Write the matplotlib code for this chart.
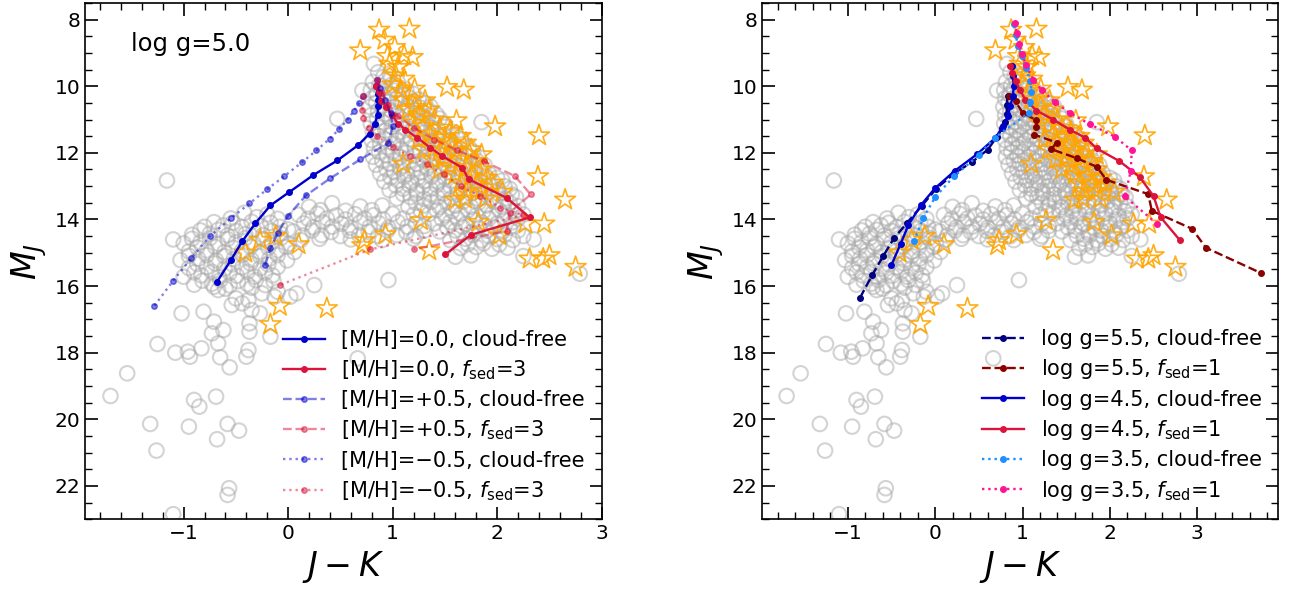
import numpy as np
import matplotlib.pyplot as plt
from matplotlib.ticker import MultipleLocator

# ---- field brown dwarfs (J-K, M_J), grouped by region of the CMD ----
field_early_L = [
    (0.86, 9.58), (0.97, 9.63), (0.82, 9.33), (0.81, 9.87), (0.93, 9.83), (1.05, 9.88),
    (0.79, 10.12), (0.9, 10.08), (1.02, 10.13), (1.13, 10.1), (0.71, 10.13),
    (0.8, 10.37), (0.92, 10.33), (1.04, 10.38), (1.16, 10.34), (1.25, 10.4),
    (0.78, 10.62), (0.9, 10.58), (1.02, 10.63), (1.14, 10.59), (1.26, 10.64), (1.36, 10.6),
    (0.8, 10.86), (0.93, 10.83), (1.05, 10.88), (1.17, 10.84), (1.29, 10.88), (1.42, 10.85),
    (0.79, 11.12), (0.91, 11.08), (1.03, 11.13), (1.15, 11.09), (1.27, 11.12), (1.39, 11.08),
    (1.5, 11.13), (0.47, 10.98), (1.85, 11.08),
    (0.81, 11.36), (0.93, 11.33), (1.06, 11.38), (1.19, 11.34), (1.31, 11.37), (1.44, 11.33),
    (1.57, 11.37),
]
field_late_L = [
    (0.8, 11.62), (0.92, 11.58), (1.04, 11.63), (1.17, 11.59), (1.3, 11.62), (1.42, 11.58),
    (1.55, 11.63), (1.66, 11.6),
    (0.82, 11.86), (0.95, 11.83), (1.08, 11.88), (1.21, 11.84), (1.34, 11.87), (1.47, 11.83),
    (1.6, 11.87), (1.73, 11.84),
    (0.81, 12.12), (0.94, 12.08), (1.07, 12.13), (1.2, 12.09), (1.33, 12.12), (1.46, 12.08),
    (1.59, 12.13), (1.72, 12.09), (1.82, 12.12),
    (0.84, 12.36), (0.97, 12.33), (1.1, 12.38), (1.23, 12.34), (1.36, 12.37), (1.49, 12.33),
    (1.62, 12.38), (1.75, 12.34), (1.88, 12.37),
    (0.88, 12.62), (1.01, 12.58), (1.14, 12.63), (1.27, 12.59), (1.4, 12.62), (1.53, 12.58),
    (1.66, 12.63), (1.79, 12.59), (1.92, 12.62),
    (0.92, 12.86), (1.05, 12.83), (1.18, 12.88), (1.31, 12.84), (1.44, 12.87), (1.57, 12.83),
    (1.7, 12.88), (1.83, 12.84), (1.96, 12.87), (2.05, 12.83),
    (0.97, 13.12), (1.1, 13.08), (1.23, 13.13), (1.36, 13.09), (1.49, 13.12), (1.62, 13.08),
    (1.75, 13.13), (1.88, 13.09), (2.01, 13.12), (2.12, 13.08),
    (1.04, 13.37), (1.17, 13.33), (1.3, 13.38), (1.43, 13.34), (1.56, 13.37), (1.69, 13.33),
    (1.82, 13.38), (1.95, 13.34), (2.08, 13.37), (2.18, 13.33),
]
field_L_fill = [
    (0.91, 9.72), (0.87, 9.98), (0.99, 9.96),
    (0.85, 10.24), (0.97, 10.22), (1.09, 10.26), (1.2, 10.23),
    (0.84, 10.49), (0.96, 10.47), (1.08, 10.5), (1.2, 10.47), (1.31, 10.5),
    (0.86, 10.74), (0.98, 10.72), (1.1, 10.75), (1.22, 10.72), (1.35, 10.74),
    (0.85, 10.98), (0.97, 10.97), (1.09, 11.0), (1.21, 10.97), (1.33, 11.0), (1.45, 10.97),
    (0.87, 11.24), (0.99, 11.22), (1.12, 11.25), (1.25, 11.22), (1.37, 11.25), (1.5, 11.22),
    (0.86, 11.49), (0.98, 11.47), (1.1, 11.5), (1.23, 11.47), (1.36, 11.5), (1.49, 11.47),
    (1.61, 11.5),
    (0.88, 11.74), (1.01, 11.72), (1.14, 11.75), (1.27, 11.72), (1.4, 11.75), (1.53, 11.72),
    (1.66, 11.75),
    (0.87, 11.98), (1.0, 11.97), (1.13, 12.0), (1.26, 11.97), (1.39, 12.0), (1.52, 11.97),
    (1.65, 12.0), (1.77, 11.97),
    (0.9, 12.24), (1.03, 12.22), (1.16, 12.25), (1.29, 12.22), (1.42, 12.25), (1.55, 12.22),
    (1.68, 12.25), (1.8, 12.22),
    (0.94, 12.49), (1.07, 12.47), (1.2, 12.5), (1.33, 12.47), (1.46, 12.5), (1.59, 12.47),
    (1.72, 12.5), (1.85, 12.47),
    (0.98, 12.74), (1.11, 12.72), (1.24, 12.75), (1.37, 12.72), (1.5, 12.75), (1.63, 12.72),
    (1.76, 12.75), (1.89, 12.72), (2.0, 12.75),
    (1.03, 12.98), (1.16, 12.97), (1.29, 13.0), (1.42, 12.97), (1.55, 13.0), (1.68, 12.97),
    (1.81, 13.0), (1.94, 12.97), (2.07, 13.0),
    (1.1, 13.24), (1.23, 13.22), (1.36, 13.25), (1.49, 13.22), (1.62, 13.25), (1.75, 13.22),
    (1.88, 13.25), (2.01, 13.22), (2.14, 13.25),
]
field_LT = [
    (1.15, 13.62), (1.3, 13.58), (1.45, 13.63), (1.6, 13.59), (1.75, 13.62), (1.9, 13.58),
    (2.05, 13.63), (2.2, 13.6),
    (1.2, 13.86), (1.35, 13.83), (1.5, 13.88), (1.65, 13.84), (1.8, 13.87), (1.95, 13.83),
    (2.1, 13.88), (2.25, 13.85),
    (1.4, 14.12), (1.55, 14.08), (1.7, 14.13), (1.85, 14.09), (2.0, 14.12), (2.15, 14.08),
    (1.45, 14.36), (1.6, 14.33), (1.75, 14.38), (1.9, 14.34), (2.05, 14.37), (2.2, 14.33),
    (1.55, 14.62), (1.7, 14.58), (1.85, 14.63), (2.0, 14.59), (2.15, 14.62), (2.35, 14.6),
    (1.65, 14.86), (1.8, 14.83), (1.95, 14.88), (2.1, 14.85),
    (1.6, 15.12), (1.75, 15.08), (2.25, 15.1), (2.79, 15.63),
    (1.22, 13.5), (1.37, 13.47), (1.52, 13.5), (1.67, 13.47), (1.82, 13.5), (1.97, 13.47),
    (2.12, 13.5),
    (1.27, 13.74), (1.42, 13.72), (1.57, 13.75), (1.72, 13.72), (1.87, 13.75), (2.02, 13.72),
    (2.17, 13.75),
    (1.47, 13.98), (1.62, 13.97), (1.77, 14.0), (1.92, 13.97), (2.07, 14.0), (2.2, 13.97),
    (1.52, 14.24), (1.67, 14.22), (1.82, 14.25), (1.97, 14.22), (2.12, 14.25),
    (1.62, 14.49), (1.77, 14.47), (1.92, 14.5), (2.07, 14.47), (2.25, 14.5),
    (1.72, 14.74), (1.87, 14.72), (2.02, 14.75),
]
field_T_band = [
    (0.2, 13.62), (0.42, 13.51), (0.69, 13.61), (0.9, 13.58),
    (0.1, 13.86), (0.28, 13.83), (0.46, 13.88), (0.64, 13.84), (0.82, 13.87), (1.0, 13.83),
    (0.15, 14.12), (0.33, 14.08), (0.51, 14.13), (0.69, 14.09), (0.87, 14.12), (1.05, 14.08),
    (1.22, 14.12),
    (0.05, 14.36), (0.23, 14.33), (0.41, 14.38), (0.59, 14.34), (0.77, 14.37), (0.95, 14.33),
    (1.13, 14.38), (1.3, 14.34),
    (0.12, 14.62), (0.3, 14.58), (0.6, 14.6), (0.9, 14.62), (1.2, 14.58),
    (0.31, 13.72), (0.55, 13.74), (0.8, 13.72), (0.19, 13.98), (0.37, 13.97), (0.55, 14.0),
    (0.73, 13.97), (0.91, 14.0), (1.1, 13.97), (0.24, 14.24), (0.42, 14.22), (0.6, 14.25),
    (0.78, 14.22), (0.96, 14.25), (1.14, 14.22), (1.3, 14.2), (0.14, 14.48), (0.32, 14.47),
    (0.5, 14.5), (0.68, 14.47), (0.86, 14.5), (1.04, 14.47), (1.22, 14.5), (-0.42, 13.8),
    (-0.2, 13.85),
]
field_T_blob = [
    (-0.55, 13.97), (-0.3, 13.93), (-0.1, 13.98),
    (-0.8, 14.22), (-0.62, 14.18), (-0.44, 14.23), (-0.26, 14.19), (-0.08, 14.22),
    (-0.92, 14.46), (-0.75, 14.43), (-0.58, 14.48), (-0.41, 14.44), (-0.24, 14.47),
    (-0.07, 14.43), (-1.1, 14.6),
    (-1.0, 14.72), (-0.84, 14.68), (-0.67, 14.73), (-0.5, 14.69), (-0.33, 14.72),
    (-0.16, 14.68), (0.01, 14.73),
    (-0.95, 14.96), (-0.78, 14.93), (-0.61, 14.98), (-0.44, 14.94), (-0.27, 14.97),
    (-0.1, 14.93), (0.06, 14.98),
    (-1.03, 15.22), (-0.86, 15.18), (-0.69, 15.23), (-0.52, 15.19), (-0.35, 15.22),
    (-0.18, 15.18), (-0.01, 15.23),
    (-0.95, 15.46), (-0.78, 15.43), (-0.61, 15.48), (-0.44, 15.44), (-0.27, 15.47),
    (-0.1, 15.43),
    (-1.0, 15.72), (-0.83, 15.68), (-0.66, 15.73), (-0.49, 15.69), (-0.32, 15.72),
    (-0.15, 15.68),
    (-0.9, 15.96), (-0.73, 15.93), (-0.56, 15.98), (-0.39, 15.94), (-0.22, 15.97),
    (0.96, 15.82), (-1.16, 12.83),
    (-0.71, 14.08), (-0.53, 14.1), (-0.35, 14.07), (-0.17, 14.1),
    (-0.84, 14.33), (-0.67, 14.31), (-0.5, 14.34), (-0.33, 14.31), (-0.16, 14.34), (0.0, 14.3),
    (-0.92, 14.58), (-0.75, 14.56), (-0.58, 14.59), (-0.41, 14.56), (-0.24, 14.59),
    (-0.07, 14.56),
    (-0.87, 14.84), (-0.7, 14.82), (-0.53, 14.85), (-0.36, 14.82), (-0.19, 14.85),
    (-0.02, 14.82),
    (-0.95, 15.09), (-0.78, 15.07), (-0.61, 15.1), (-0.44, 15.07), (-0.27, 15.1),
    (-0.1, 15.07),
    (-0.87, 15.34), (-0.7, 15.32), (-0.53, 15.35), (-0.36, 15.32), (-0.19, 15.35),
    (-0.9, 15.59), (-0.73, 15.57), (-0.56, 15.6), (-0.39, 15.57), (-0.22, 15.6),
    (-0.82, 15.84), (-0.65, 15.82), (-0.48, 15.85), (-0.31, 15.82), (-0.14, 15.85),
    (-0.6, 16.08), (-0.35, 16.05),
]
field_Y = [
    (-0.71, 16.02), (-0.67, 16.12), (-0.5, 16.37), (-0.44, 16.52), (-0.38, 16.42),
    (-0.25, 16.22), (-0.1, 16.17), (0.02, 16.32), (0.08, 16.22), (0.25, 15.97),
    (-1.02, 16.82), (-0.81, 16.77), (-0.54, 16.57), (-0.35, 16.72), (-0.27, 16.82),
    (-0.13, 16.32), (-0.71, 17.07), (-0.62, 17.32), (-0.73, 17.42), (-0.37, 17.12),
    (-0.37, 17.37), (-0.17, 17.52), (-1.25, 17.74), (-1.08, 18.0), (-0.96, 17.97),
    (-0.94, 18.12), (-0.83, 17.87), (-0.67, 17.72), (-0.65, 18.14), (-0.38, 17.92),
    (-0.4, 18.12), (-0.56, 18.44), (-1.54, 18.62), (-1.7, 19.3), (-0.9, 19.42),
    (-0.85, 19.62), (-0.69, 19.32), (-1.32, 20.14), (-0.95, 20.22), (-0.68, 20.6),
    (-0.58, 20.14), (-0.47, 20.34), (-1.26, 20.94), (-0.565, 22.07), (-0.58, 22.27),
    (0.665, 18.17), (-1.1, 22.85),
]

# ---- young / low-gravity objects ----
young_top = [
    (0.87, 8.31), (1.16, 8.28), (0.69, 8.93), (0.92, 8.61), (1.02, 8.83), (1.11, 9.08),
    (1.19, 9.13), (0.97, 9.33), (1.05, 9.43), (1.03, 9.68), (1.11, 9.78), (0.95, 9.1),
    (1.0, 9.95), (1.08, 10.15), (1.21, 10.08), (1.52, 10.03), (1.68, 10.11), (1.31, 10.43),
    (1.21, 10.63), (1.61, 11.03), (1.98, 11.21), (2.4, 11.48), (2.39, 12.71), (2.65, 13.41),
    (1.1, 12.33),
]
young_L = [
    (1.1, 10.4), (1.15, 10.7), (1.25, 10.85), (1.35, 10.7), (1.4, 11.0), (1.2, 11.1),
    (1.3, 11.2), (1.45, 11.25), (1.55, 11.35), (1.35, 11.45), (1.5, 11.55), (1.65, 11.5),
    (1.4, 11.7), (1.55, 11.75), (1.7, 11.7), (1.45, 11.95), (1.6, 11.95), (1.75, 11.9),
    (1.85, 12.05), (1.5, 12.15), (1.65, 12.2), (1.8, 12.25), (1.55, 12.4), (1.7, 12.45),
    (1.85, 12.5), (1.6, 12.65), (1.75, 12.7), (1.9, 12.75), (1.65, 12.9), (1.8, 12.95),
    (1.95, 12.9), (1.7, 13.15), (1.85, 13.15), (1.25, 11.6), (1.3, 11.9), (1.38, 12.2),
    (1.45, 12.5), (1.6, 13.41), (1.69, 13.38), (1.89, 13.38), (2.05, 13.18),
]
young_T = [
    (1.27, 14.03), (1.82, 14.08), (2.02, 14.48), (2.27, 14.13), (2.45, 14.13),
    (2.31, 15.18), (2.44, 15.18), (2.5, 15.08), (2.75, 15.43), (1.35, 14.93),
    (0.93, 14.45), (0.73, 14.63), (0.71, 14.78), (0.1, 14.75), (-0.12, 14.5),
    (-0.27, 14.62), (-0.41, 15.0), (-0.08, 16.6), (0.37, 16.67), (-0.17, 17.15),
]

# ---- model tracks, log g = 5.0 ----
m00_clear_jk = [-0.68, -0.55, -0.44, -0.315, -0.17, 0.01, 0.24, 0.47, 0.67, 0.78,
                0.83, 0.855, 0.862, 0.862, 0.855, 0.845]
m00_clear_mj = [15.87, 15.23, 14.66, 14.12, 13.58, 13.18, 12.67, 12.23, 11.77, 11.42,
                11.12, 10.85, 10.6, 10.4, 10.22, 10.0]
m00_cloud_jk = [0.845, 0.865, 0.89, 0.94, 0.99, 1.05, 1.12, 1.237, 1.357, 1.47, 1.667,
                1.726, 2.09, 2.31, 1.75, 1.503]
m00_cloud_mj = [10.0, 10.18, 10.43, 10.63, 10.85, 11.12, 11.3, 11.55, 11.84, 12.09, 12.45,
                12.79, 13.35, 13.94, 14.46, 15.05]
mp05_clear_jk = [-0.22, -0.17, -0.1, 0.0, 0.17, 0.4, 0.69, 0.96, 1.0, 0.98, 0.93, 0.88, 0.85]
mp05_clear_mj = [15.37, 14.87, 14.4, 13.89, 13.28, 12.77, 12.2, 11.7, 11.18, 10.8, 10.4,
                 10.05, 9.8]
mp05_cloud_jk = [0.85, 0.9, 0.96, 1.05, 1.2, 1.4, 1.62, 1.87, 2.17, 2.32, 2.12, 2.09, 1.2]
mp05_cloud_mj = [9.8, 10.2, 10.55, 10.9, 11.25, 11.6, 11.93, 12.25, 12.7, 13.25, 13.8,
                 14.35, 14.9]
mm05_clear_jk = [-1.28, -1.1, -0.93, -0.75, -0.55, -0.37, -0.2, -0.04, 0.13, 0.27, 0.4,
                 0.49, 0.57, 0.63, 0.68, 0.72]
mm05_clear_mj = [16.59, 15.84, 15.17, 14.51, 13.97, 13.52, 13.09, 12.71, 12.29, 11.93,
                 11.57, 11.28, 11.0, 10.73, 10.51, 10.28]
mm05_cloud_jk = [0.72, 0.71, 0.72, 0.77, 0.85, 1.0, 1.17, 1.33, 1.49, 1.65, 1.84, 2.03,
                 2.25, 0.785, -0.08]
mm05_cloud_mj = [10.28, 10.7, 10.95, 11.25, 11.5, 11.83, 12.1, 12.35, 12.65, 13.0, 13.3,
                 13.65, 13.88, 14.9, 15.97]

# ---- model tracks, solar metallicity, varying gravity ----
g55_clear_jk = [-0.86, -0.72, -0.595, -0.47, -0.32, -0.155, 0.01, 0.22, 0.42, 0.6, 0.71,
                0.77, 0.8, 0.82, 0.82, 0.83]
g55_clear_mj = [16.35, 15.67, 15.1, 14.56, 14.1, 13.6, 13.08, 12.62, 12.28, 11.91, 11.51,
                11.26, 11.08, 10.83, 10.55, 10.28]
g55_cloud_jk = [0.85, 0.92, 1.0, 1.16, 1.16, 1.13, 1.39, 1.33, 1.62, 1.85, 1.96, 2.44,
                2.48, 2.94, 3.1, 3.73]
g55_cloud_mj = [10.3, 10.45, 10.8, 11.02, 11.23, 11.45, 11.69, 11.89, 12.16, 12.42, 12.81,
                13.24, 13.74, 14.28, 14.85, 15.61]
g45_clear_jk = [-0.5, -0.395, -0.305, -0.163, 0.0, 0.225, 0.48, 0.69, 0.78, 0.83, 0.86,
                0.89, 0.9, 0.89, 0.88]
g45_clear_mj = [15.37, 14.73, 14.16, 13.57, 13.06, 12.54, 12.04, 11.55, 11.2, 10.9, 10.6,
                10.3, 10.0, 9.7, 9.4]
g45_cloud_jk = [0.86, 0.885, 0.92, 0.97, 1.03, 1.16, 1.35, 1.54, 1.72, 1.85, 2.11, 2.34,
                2.5, 2.58, 2.8]
g45_cloud_mj = [9.38, 9.6, 9.85, 10.1, 10.4, 10.73, 11.0, 11.3, 11.55, 11.87, 12.25, 12.72,
                13.3, 13.93, 14.62]
g35_clear_jk = [-0.245, -0.135, 0.0, 0.218, 0.5, 0.68, 1.07, 1.09, 1.1, 1.09, 1.04, 0.99,
                0.95, 0.92, 0.9]
g35_clear_mj = [14.66, 13.95, 13.33, 12.7, 12.07, 11.55, 10.8, 10.48, 10.16, 9.83, 9.45,
                9.1, 8.8, 8.45, 8.12]
g35_cloud_jk = [0.91, 0.935, 0.96, 0.99, 1.04, 1.12, 1.22, 1.37, 1.54, 1.77, 2.06, 2.25,
                2.24, 2.17, 2.54]
g35_cloud_mj = [8.1, 8.4, 8.72, 9.02, 9.35, 9.8, 10.12, 10.47, 10.8, 11.14, 11.52, 11.93,
                12.54, 13.31, 14.13]

FSED = r'$f_{\rm sed}$'
M = '\u2212'

field = np.array(field_early_L + field_late_L + field_L_fill + field_LT + field_T_band
                 + field_T_blob + field_Y)
young = np.array(young_top + young_L + young_T)

left_tracks = [
    (m00_clear_jk, m00_clear_mj, 'mediumblue', '-', 1.0, '[M/H]=0.0, cloud-free'),
    (m00_cloud_jk, m00_cloud_mj, 'crimson', '-', 1.0, '[M/H]=0.0, ' + FSED + '=3'),
    (mp05_clear_jk, mp05_clear_mj, 'mediumblue', '--', 0.5, '[M/H]=+0.5, cloud-free'),
    (mp05_cloud_jk, mp05_cloud_mj, 'crimson', '--', 0.5, '[M/H]=+0.5, ' + FSED + '=3'),
    (mm05_clear_jk, mm05_clear_mj, 'mediumblue', ':', 0.5, '[M/H]=' + M + '0.5, cloud-free'),
    (mm05_cloud_jk, mm05_cloud_mj, 'crimson', ':', 0.5, '[M/H]=' + M + '0.5, ' + FSED + '=3'),
]
right_tracks = [
    (g55_clear_jk, g55_clear_mj, 'navy', '--', 1.0, 'log g=5.5, cloud-free'),
    (g55_cloud_jk, g55_cloud_mj, 'darkred', '--', 1.0, 'log g=5.5, ' + FSED + '=1'),
    (g45_clear_jk, g45_clear_mj, 'mediumblue', '-', 1.0, 'log g=4.5, cloud-free'),
    (g45_cloud_jk, g45_cloud_mj, 'crimson', '-', 1.0, 'log g=4.5, ' + FSED + '=1'),
    (g35_clear_jk, g35_clear_mj, 'dodgerblue', ':', 1.0, 'log g=3.5, cloud-free'),
    (g35_cloud_jk, g35_cloud_mj, 'deeppink', ':', 1.0, 'log g=3.5, ' + FSED + '=1'),
]


def draw_panel(ax, tracks, xlim):
    ax.scatter(field[:, 0], field[:, 1], s=110, facecolors='none', edgecolors='darkgray',
               linewidths=1.5, alpha=0.5, zorder=1)
    ax.scatter(young[:, 0], young[:, 1], s=250, marker='*', facecolors='none',
               edgecolors='orange', linewidths=1.2, alpha=0.9, zorder=2)
    for jk, mj, c, ls, a, lab in tracks:
        ax.plot(jk, mj, color=c, ls=ls, lw=1.7, marker='o', ms=4, alpha=a, label=lab, zorder=3)
    ax.set_xlim(*xlim)
    ax.set_ylim(23, 7.5)
    ax.xaxis.set_major_locator(MultipleLocator(1))
    ax.xaxis.set_minor_locator(MultipleLocator(0.2))
    ax.yaxis.set_major_locator(MultipleLocator(2))
    ax.yaxis.set_minor_locator(MultipleLocator(0.5))
    ax.tick_params(which='both', direction='in', top=True, right=True, labelsize=14.5)
    ax.tick_params(which='major', length=9, width=1.2)
    ax.tick_params(which='minor', length=5, width=1.0)
    for sp in ax.spines.values():
        sp.set_linewidth(1.2)
    ax.set_xlabel('$J-K$', fontsize=24)
    ax.set_ylabel('$M_J$', fontsize=24)
    ax.legend(loc='lower right', fontsize=15, frameon=False, handlelength=2.0,
              handletextpad=0.8, labelspacing=0.4, borderaxespad=0.4)


fig = plt.figure(figsize=(12.94, 5.9), dpi=100)
ax1 = fig.add_axes([0.066, 0.12, 0.399, 0.875])
ax2 = fig.add_axes([0.589, 0.12, 0.399, 0.875])

draw_panel(ax1, left_tracks, (-1.94, 3.0))
draw_panel(ax2, right_tracks, (-1.98, 3.93))
ax1.text(-1.5, 8.73, 'log g=5.0', fontsize=17.5, va='center', ha='left')

fig.savefig('out.png', dpi=100)
